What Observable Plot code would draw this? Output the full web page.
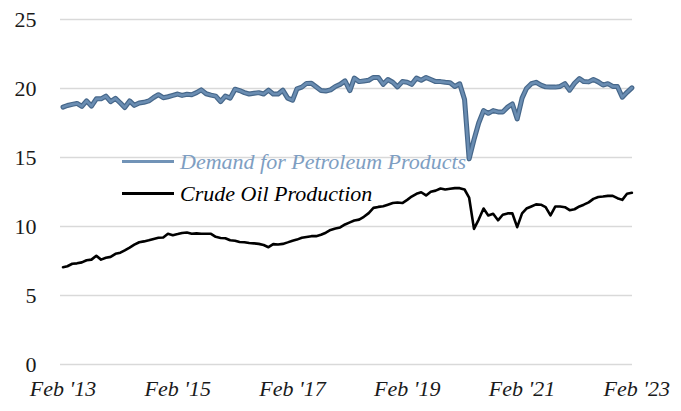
<!DOCTYPE html>
<html>
<head>
<meta charset="utf-8">
<script src="https://cdn.jsdelivr.net/npm/d3@7"></script>
<script src="https://cdn.jsdelivr.net/npm/@observablehq/plot@0.6"></script>
<style>
  html, body { margin: 0; padding: 0; background: #fff; }
  #chart { position: relative; width: 681px; height: 411px; }
  #chart svg { display: block; }
  .legend { position: absolute; left: 122px; font-family: "Liberation Serif", "Tinos", "Noto Serif", "Nimbus Roman", "FreeSerif", "DejaVu Serif", serif; font-style: italic; font-size: 22px; height: 22px; line-height: 22px; display: flex; align-items: center; white-space: nowrap; }
  .legend .sw { display: inline-block; width: 52px; height: 3px; margin-right: 6px; }
  #chart svg text { font-family: "Liberation Serif", "Tinos", "Noto Serif", "Nimbus Roman", "FreeSerif", "DejaVu Serif", serif; }
</style>
</head>
<body>
<div id="chart"></div>
<script>
// Monthly series starting Feb 2013 (million barrels per day)
const startMonth = "2013-02";
const demand = [
  18.65, 18.77, 18.85, 18.92, 18.70, 19.10, 18.72, 19.25, 19.25, 19.45,
  19.05, 19.28, 18.95, 18.62, 19.10, 18.78, 18.95, 19.00, 19.10, 19.35,
  19.55, 19.33, 19.40, 19.50, 19.60, 19.50, 19.58, 19.55, 19.70, 19.90,
  19.62, 19.52, 19.45, 19.05, 19.45, 19.30, 19.95, 19.85, 19.70, 19.60,
  19.65, 19.70, 19.60, 19.88, 19.60, 19.60, 19.88, 19.30, 19.15, 19.98,
  20.10, 20.37, 20.38, 20.12, 19.86, 19.82, 19.90, 20.15, 20.30, 20.55,
  19.85, 20.75, 20.50, 20.55, 20.60, 20.80, 20.80, 20.30, 20.65, 20.45,
  20.12, 20.50, 20.45, 20.30, 20.75, 20.60, 20.80, 20.65, 20.50, 20.50,
  20.45, 20.42, 20.15, 20.34, 19.20, 14.90, 16.30, 17.50, 18.40, 18.20,
  18.40, 18.30, 18.30, 18.65, 18.88, 17.80, 19.30, 20.00, 20.35, 20.45,
  20.25, 20.12, 20.10, 20.10, 20.15, 20.35, 19.88, 20.38, 20.72, 20.50,
  20.48, 20.65, 20.48, 20.25, 20.35, 20.15, 20.15, 19.37, 19.72, 20.05
];
const crude = [
  7.05, 7.12, 7.30, 7.33, 7.40, 7.55, 7.60, 7.88, 7.60, 7.74,
  7.80, 8.02, 8.10, 8.27, 8.47, 8.68, 8.86, 8.92, 9.00, 9.10,
  9.18, 9.20, 9.47, 9.37, 9.45, 9.53, 9.57, 9.48, 9.50, 9.48,
  9.47, 9.47, 9.25, 9.17, 9.15, 9.00, 8.97, 8.88, 8.86, 8.80,
  8.78, 8.74, 8.66, 8.50, 8.72, 8.70, 8.74, 8.85, 8.97, 9.05,
  9.18, 9.24, 9.30, 9.30, 9.40, 9.55, 9.75, 9.85, 9.93, 10.15,
  10.30, 10.43, 10.50, 10.70, 10.97, 11.35, 11.42, 11.47, 11.58, 11.70,
  11.74, 11.70, 11.93, 12.17, 12.37, 12.48, 12.25, 12.52, 12.60, 12.75,
  12.68, 12.73, 12.78, 12.78, 12.68, 12.10, 9.83, 10.50, 11.30, 10.80,
  10.92, 10.45, 10.85, 10.95, 10.96, 9.95, 10.95, 11.30, 11.45, 11.60,
  11.58, 11.40, 10.80, 11.45, 11.45, 11.40, 11.18, 11.25, 11.45, 11.58,
  11.75, 12.00, 12.14, 12.17, 12.22, 12.22, 12.05, 11.93, 12.37, 12.44
];
const yTicks = [0, 5, 10, 15, 20, 25];
const xTickYears = [2013, 2015, 2017, 2019, 2021, 2023];
const seriesNames = ["Demand for Petroleum Products", "Crude Oil Production"];

const start = d3.utcParse("%Y-%m")(startMonth);
const dates = demand.map((_, i) => d3.utcMonth.offset(start, i));
const demandData = demand.map((v, i) => ({date: dates[i], value: v}));
const crudeData = crude.map((v, i) => ({date: dates[i], value: v}));
const xTicks = xTickYears.map(y => new Date(Date.UTC(y, 1, 1)));
const serif = "'Liberation Serif', 'Tinos', 'Noto Serif', 'Nimbus Roman', 'FreeSerif', 'DejaVu Serif', serif";

const chart = Plot.plot({
  width: 681,
  height: 411,
  marginLeft: 60,
  marginRight: 49,
  marginTop: 19,
  marginBottom: 47,
  style: {fontFamily: serif, fontSize: "22px", color: "#1a1a1a", background: "#fff"},
  x: {type: "utc", domain: [new Date(Date.UTC(2013, 0, 16)), new Date(Date.UTC(2023, 0, 5))]},
  y: {domain: [0, 25]},
  marks: [
    Plot.gridY(yTicks, {stroke: "#d9d9d9", strokeOpacity: 1, strokeWidth: 1.5}),
    Plot.axisY(yTicks, {tickSize: 0, tickPadding: 24, label: null, fontSize: 22, fontFamily: serif}),
    Plot.axisX(xTicks, {tickSize: 0, tickPadding: 16, label: null, fontSize: 22, fontStyle: "italic", fontFamily: serif,
      tickFormat: d => "Feb '" + String(d.getUTCFullYear()).slice(2)}),
    Plot.line(crudeData, {x: "date", y: "value", stroke: "#000", strokeWidth: 2.6, strokeLinejoin: "round"}),
    Plot.line(demandData, {x: "date", y: "value", stroke: "#46678a", strokeWidth: 5, strokeLinejoin: "round"}),
    Plot.line(demandData, {x: "date", y: "value", stroke: "#6a8db2", strokeWidth: 2.6, strokeLinejoin: "round"})
  ]
});

const root = document.getElementById("chart");
root.appendChild(chart);

const legendItems = [
  {name: seriesNames[0], swatch: "#7193b7", text: "#7e9ec2", top: 150.5},
  {name: seriesNames[1], swatch: "#000", text: "#000", top: 182.5}
];
for (const it of legendItems) {
  const row = document.createElement("div");
  row.className = "legend";
  row.style.top = it.top + "px";
  const sw = document.createElement("span");
  sw.className = "sw";
  sw.style.background = it.swatch;
  const tx = document.createElement("span");
  tx.textContent = it.name;
  tx.style.color = it.text;
  row.appendChild(sw);
  row.appendChild(tx);
  root.appendChild(row);
}
</script>
</body>
</html>
